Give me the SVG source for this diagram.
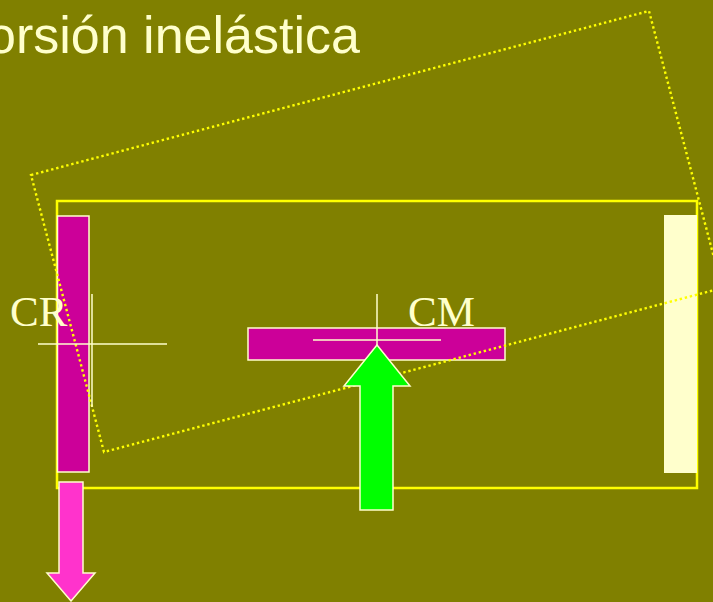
<svg xmlns="http://www.w3.org/2000/svg" width="713" height="602" viewBox="0 0 713 602">
<style>
.bg{fill:#808000}
.title{font-family:"Liberation Sans",Arial,sans-serif;font-size:52px;fill:#FFFFCC}
.lbl{font-family:"Liberation Serif","Times New Roman",serif;font-size:43px;fill:#FFFFCC}
.frame{fill:none;stroke:#FFFF00;stroke-width:2.5}
.bar{fill:#CC0099;stroke:#FFFFCC;stroke-width:1.5}
.wall{fill:#FFFFCC;stroke:none}
.axis{stroke:#FFFFCC;stroke-width:1.5;fill:none}
.rot{fill:none;stroke:#FFFF00;stroke-width:2.4;stroke-dasharray:2.4 2.8}
.arrowUp{fill:#00FF00;stroke:#FFFFCC;stroke-width:1.5}
.arrowDn{fill:#FF33CC;stroke:#FFFFCC;stroke-width:1.5}
</style>
<rect class="bg" x="0" y="0" width="713" height="602"/>
<g id="title"><text class="title" x="-13" y="53">orsión inelástica</text></g>
<g id="frame"><rect class="frame" x="57" y="201" width="640" height="287"/></g>
<g id="wall-left"><rect class="bar" x="57.5" y="216" width="31.5" height="256"/></g>
<g id="wall-right"><rect class="wall" x="664" y="215" width="33" height="258"/></g>
<g id="beam-cm"><rect class="bar" x="248" y="328" width="257" height="32"/></g>
<g id="rotated-frame"><polygon class="rot" points="31,175 649,11 722,288 104,452"/></g>
<g id="cr">
<line class="axis" x1="38" y1="344" x2="167" y2="344"/>
<line class="axis" x1="92" y1="294" x2="92" y2="407"/>
<text class="lbl" x="10" y="326">CR</text>
</g>
<g id="cm">
<line class="axis" x1="313" y1="340" x2="441" y2="340"/>
<line class="axis" x1="377" y1="294" x2="377" y2="345"/>
<text class="lbl" x="408" y="326">CM</text>
</g>
<g id="connectors">
<g id="force-up"><polygon class="arrowUp" points="377,345 410,386 393,386 393,510 360,510 360,386 344,386"/></g>
<g id="force-down"><polygon class="arrowDn" points="59,482 83,482 83,573 95,573 71,601 47,573 59,573"/></g>
</g>
</svg>
